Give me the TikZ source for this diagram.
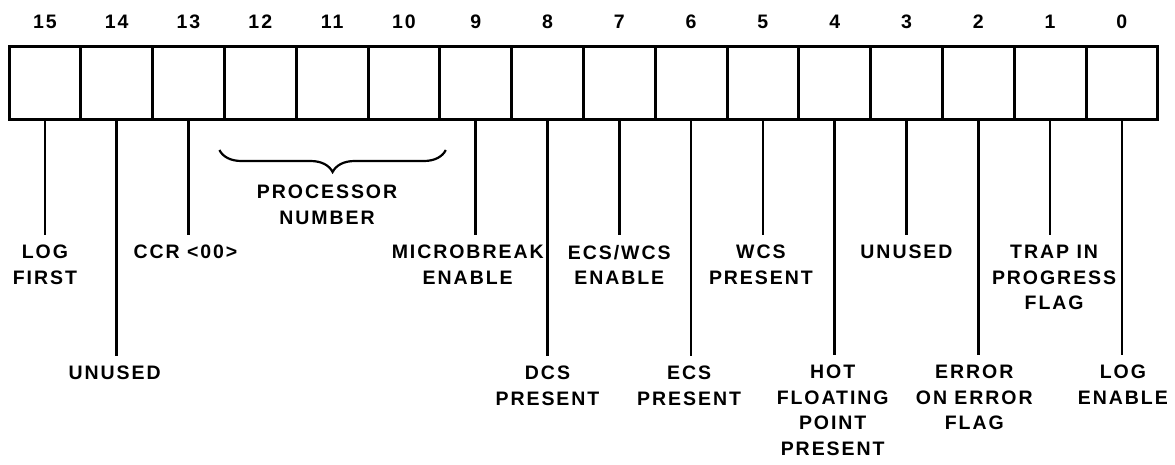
\documentclass[tikz,border=0pt]{standalone}
\usepackage{fontspec}
\newfontfamily\regfont{Liberation Sans}[LetterSpace=10]
\usetikzlibrary{positioning,decorations.pathreplacing}
\tikzset{
  bitCell/.style={draw, line width=3pt, minimum width=71.8pt, minimum height=73pt, inner sep=0pt, outer sep=0pt},
  bitNum/.style={inner sep=0pt, font=\regfont\bfseries\fontsize{19.5}{25.5}\selectfont},
  fieldLabel/.style={align=center, inner xsep=0pt, inner ysep=10pt, font=\regfont\bfseries\fontsize{19.5}{25.5}\selectfont},
  leader/.style={line width=2.5pt},
  braceLine/.style={line width=2.2pt, decorate, decoration={brace, mirror, amplitude=22pt}}
}

\begin{document}
\begin{tikzpicture}[x=1pt, y=-1pt]
\useasboundingbox (0,0) rectangle (1175,464);

\foreach \i in {0,...,15} {
  \node[bitCell] (b\i) at ({9+(15-\i+0.5)*71.8}, 82.5) {};
  \node[bitNum, above=17pt of b\i] (n\i) {\i};
}

\foreach \i/\dist/\dx/\txt in {
  15/116/0/{LOG\\FIRST},
  14/237/-2/{UNUSED},
  13/116/-3/{CCR <00>},
  9/116/-8/{MICROBREAK\\ENABLE},
  8/237/0/{DCS\\PRESENT},
  7/116/0/{ECS/WCS\\ENABLE},
  6/237/-2/{ECS\\PRESENT},
  5/116/-2/{WCS\\PRESENT},
  4/236/-2/{HOT\\FLOATING\\POINT\\PRESENT},
  3/116/0/{UNUSED},
  2/236/-4/{ERROR\\ON ERROR\\FLAG},
  1/116/4/{TRAP IN\\PROGRESS\\FLAG},
  0/236/1/{LOG\\ENABLE}} {
  \node[fieldLabel, below=\dist pt of b\i, xshift=\dx pt] (lab\i) {\txt};
  \draw[leader] (b\i.south) -- (b\i.south |- lab\i.north);
}

\draw[braceLine] ([xshift=-5pt, yshift=-31pt]b12.south west) -- ([xshift=6pt, yshift=-31pt]b10.south east);
\node[fieldLabel, below=56pt of b11, xshift=-5pt] (procNum) {PROCESSOR\\NUMBER};
\end{tikzpicture}
\end{document}
